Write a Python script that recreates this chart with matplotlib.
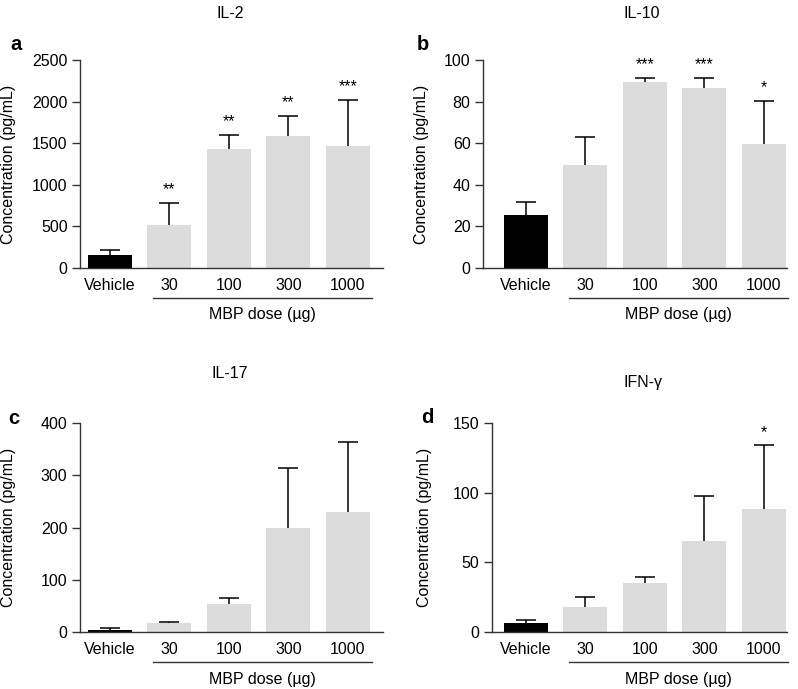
import numpy as np
import matplotlib
matplotlib.use("Agg")
import matplotlib.pyplot as plt

plt.rcParams['font.family'] = ['Liberation Sans', 'DejaVu Sans']
plt.rcParams['font.size'] = 11.5

groups = ['Vehicle', '30', '100', '300', '1000']

il2_mean = [152, 520, 1436, 1584, 1472]
il2_err = [60, 260, 164, 248, 552]
il2_stars = ['', '**', '**', '**', '***']

il10_mean = [25.6, 49.4, 89.3, 86.4, 59.4]
il10_err = [5.9, 13.8, 2.2, 5.1, 21.1]
il10_stars = ['', '', '***', '***', '*']

il17_mean = [4.5, 16.6, 54, 200, 229]
il17_err = [2.5, 3.2, 11.7, 114, 135]
il17_stars = ['', '', '', '', '']

ifng_mean = [6.5, 17.9, 35.4, 65.6, 88.5]
ifng_err = [2.4, 7.5, 4.3, 32, 45.5]
ifng_stars = ['', '', '', '', '*']

W, H = 798, 689
fig = plt.figure(figsize=(W / 100, H / 100), dpi=100)


def px_axes(left, top, right, bottom):
    return fig.add_axes([left / W, 1 - bottom / H, (right - left) / W, (bottom - top) / H])


def panel(ax, mean, err, stars, ymax, step, xlim, title, letter, title_xy, letter_xy, ylab_x):
    x = np.arange(len(groups))
    colors = ['black'] + ['#dcdcdc'] * (len(groups) - 1)
    ax.bar(x, mean, width=0.74, color=colors, zorder=2)
    tops = np.array(mean) + np.array(err)
    # upper error bars only (stem + cap)
    ax.vlines(x, mean, tops, color='black', lw=1.1, zorder=1)
    ax.hlines(tops, x - 0.17, x + 0.17, color='black', lw=1.1, zorder=1)
    for xi, t, s in zip(x, tops, stars):
        if s:
            ax.annotate(s, (xi, t), xytext=(0, 4), textcoords='offset points',
                        ha='center', va='bottom', fontsize=11.5)
    ax.set_xlim(*xlim)
    ax.set_ylim(0, ymax)
    ax.set_yticks(np.arange(0, ymax + 1, step))
    ax.set_xticks(x)
    ax.set_xticklabels(groups)
    for sp in ['top', 'right']:
        ax.spines[sp].set_visible(False)
    for sp in ['left', 'bottom']:
        ax.spines[sp].set_linewidth(1.0)
        ax.spines[sp].set_color('#333333')
    ax.tick_params(axis='y', length=6, width=1.0, color='#333333', pad=3)
    ax.tick_params(axis='x', length=0, pad=7)
    # underline of dose groups
    ax.plot([0.72, 4.4], [-0.145, -0.145], color='#333333', lw=1.0,
            transform=ax.get_xaxis_transform(), clip_on=False)
    ax.text(2.56, -0.225, 'MBP dose (\u00b5g)', transform=ax.get_xaxis_transform(),
            ha='center', va='center')
    fig.text(title_xy[0] / W, 1 - title_xy[1] / H, title, ha='center', va='center')
    fig.text(letter_xy[0] / W, 1 - letter_xy[1] / H, letter, ha='center', va='center',
             fontsize=14.5, fontweight='bold')
    ax.set_ylabel('Concentration (pg/mL)')
    pos = ax.get_position()
    ax.yaxis.set_label_coords((ylab_x - pos.x0 * W) / (pos.width * W), 0.5)


ax_a = px_axes(80, 60, 383, 268)
ax_b = px_axes(483, 60, 787, 268)
ax_c = px_axes(80, 423, 383, 632)
ax_d = px_axes(492, 423, 787, 632)

panel(ax_a, il2_mean, il2_err, il2_stars, 2500, 500, (-0.5, 4.59),
      'IL-2', 'a', (230, 13), (16, 44), 16)
panel(ax_b, il10_mean, il10_err, il10_stars, 100, 20, (-0.72, 4.39),
      'IL-10', 'b', (642, 13), (423, 44), 429)
panel(ax_c, il17_mean, il17_err, il17_stars, 400, 100, (-0.5, 4.59),
      'IL-17', 'c', (230, 374), (14, 418), 16)
panel(ax_d, ifng_mean, ifng_err, ifng_stars, 150, 50, (-0.57, 4.39),
      'IFN-\u03b3', 'd', (643, 383), (427, 417), 432)

fig.savefig('out.png', dpi=100)
